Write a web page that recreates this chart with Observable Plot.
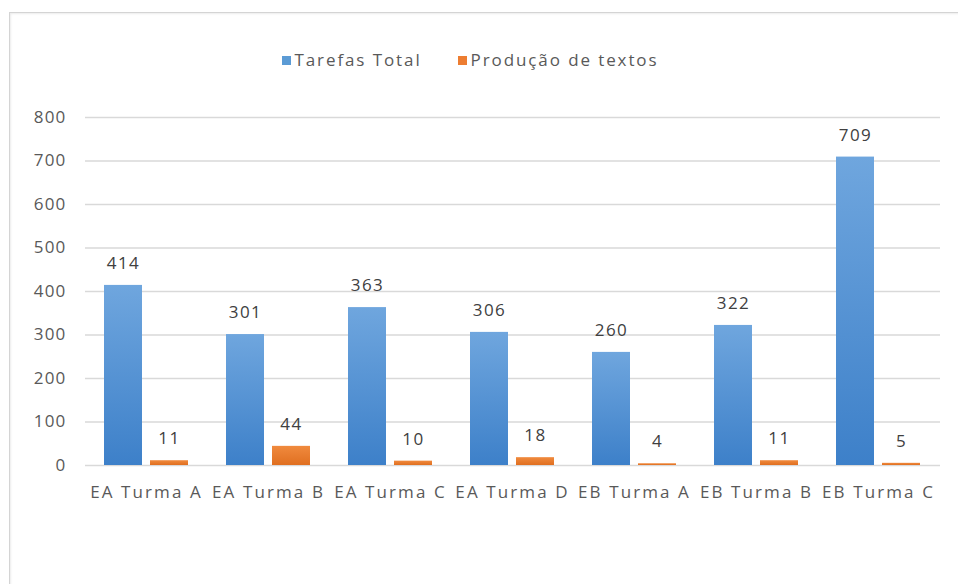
<!DOCTYPE html>
<html>
<head>
<meta charset="utf-8">
<script src="https://cdn.jsdelivr.net/npm/d3@7"></script>
<script src="https://cdn.jsdelivr.net/npm/@observablehq/plot@0.6"></script>
<style>
  html, body { margin: 0; padding: 0; background: #fff; width: 958px; height: 584px; overflow: hidden; }
  #frame { position: absolute; left: 9px; top: 12px; width: 980px; height: 600px;
           border: 1.5px solid #d4d4d4; box-shadow: 1px 1px 2px rgba(0,0,0,0.08) inset; }
  #legend { position: absolute; left: 0; top: 50px; width: 940px; height: 20px; display: flex; justify-content: center;
            gap: 36px; font-family: "Open Sans", sans-serif; font-size: 17px; letter-spacing: 1.9px; color: #595959; line-height: 20px; box-sizing: border-box; }
  #legend span.sw { display: inline-block; width: 9px; height: 9px; margin-right: 4px; vertical-align: 1px; }
  #chart { position: absolute; left: 0; top: 100px; }
</style>
</head>
<body>
<div id="frame"></div>
<div id="legend"></div>
<div id="chart"></div>
<script>
const categories = ["EA Turma A", "EA Turma B", "EA Turma C", "EA Turma D", "EB Turma A", "EB Turma B", "EB Turma C"];
const tarefasTotal = [414, 301, 363, 306, 260, 322, 709];
const producaoTextos = [11, 44, 10, 18, 4, 11, 5];
const seriesNames = ["Tarefas Total", "Produção de textos"];
const yTicks = [0, 100, 200, 300, 400, 500, 600, 700, 800];

const blueData = categories.map((c, i) => ({category: c, value: tarefasTotal[i]}));
const orangeData = categories.map((c, i) => ({category: c, value: producaoTextos[i]}));

const legend = document.getElementById("legend");
const legendColors = ["#5b9bd5", "#ed7d31"];
seriesNames.forEach((n, i) => {
  const d = document.createElement("div");
  d.innerHTML = `<span class="sw" style="background:${legendColors[i]}"></span>${n}`;
  legend.appendChild(d);
});

const font = "Open Sans, sans-serif";
const chart = Plot.plot({
  width: 958,
  height: 484,
  marginTop: 17,
  marginBottom: 119,
  marginLeft: 85,
  marginRight: 18,
  style: {fontFamily: font, fontSize: "17px", color: "#595959", background: "transparent", overflow: "visible"},
  x: {domain: categories, paddingInner: 0.31, paddingOuter: 0.155, label: null, tickSize: 0, tickPadding: 20},
  y: {domain: [0, 800], ticks: yTicks, label: null, tickSize: 0, tickPadding: 19},
  marks: [
    Plot.gridY(yTicks, {stroke: "#d9d9d9", strokeOpacity: 1, strokeWidth: 1.3}),
    Plot.barY(blueData, {x: "category", y: "value", fill: "url(#gBlue)", insetRight: 46}),
    Plot.barY(orangeData, {x: "category", y: "value", fill: "url(#gOrange)", insetLeft: 46}),
    Plot.text(blueData, {x: "category", y: "value", text: d => String(d.value), dx: -23, dy: -22, fill: "#404040", fontSize: 17}),
    Plot.text(orangeData, {x: "category", y: "value", text: d => String(d.value), dx: 23, dy: -22, fill: "#404040", fontSize: 17})
  ]
});

const svg = d3.select(chart);
const defs = svg.insert("defs", ":first-child");
const gb = defs.append("linearGradient").attr("id", "gBlue").attr("x1", 0).attr("y1", 0).attr("x2", 0).attr("y2", 1);
gb.append("stop").attr("offset", "0%").attr("stop-color", "#6fa6de");
gb.append("stop").attr("offset", "100%").attr("stop-color", "#3d80c9");
const go = defs.append("linearGradient").attr("id", "gOrange").attr("x1", 0).attr("y1", 0).attr("x2", 0).attr("y2", 1);
go.append("stop").attr("offset", "0%").attr("stop-color", "#f08a3e");
go.append("stop").attr("offset", "100%").attr("stop-color", "#e06f20");
svg.selectAll("g[aria-label='x-axis tick label'] text")
  .style("letter-spacing", "2.1px");
svg.selectAll("g[aria-label='y-axis tick label'] text")
  .style("letter-spacing", "1.2px");
svg.selectAll("g[aria-label='text'] text").style("letter-spacing", "1.5px");

document.getElementById("chart").appendChild(chart);
</script>
</body>
</html>
